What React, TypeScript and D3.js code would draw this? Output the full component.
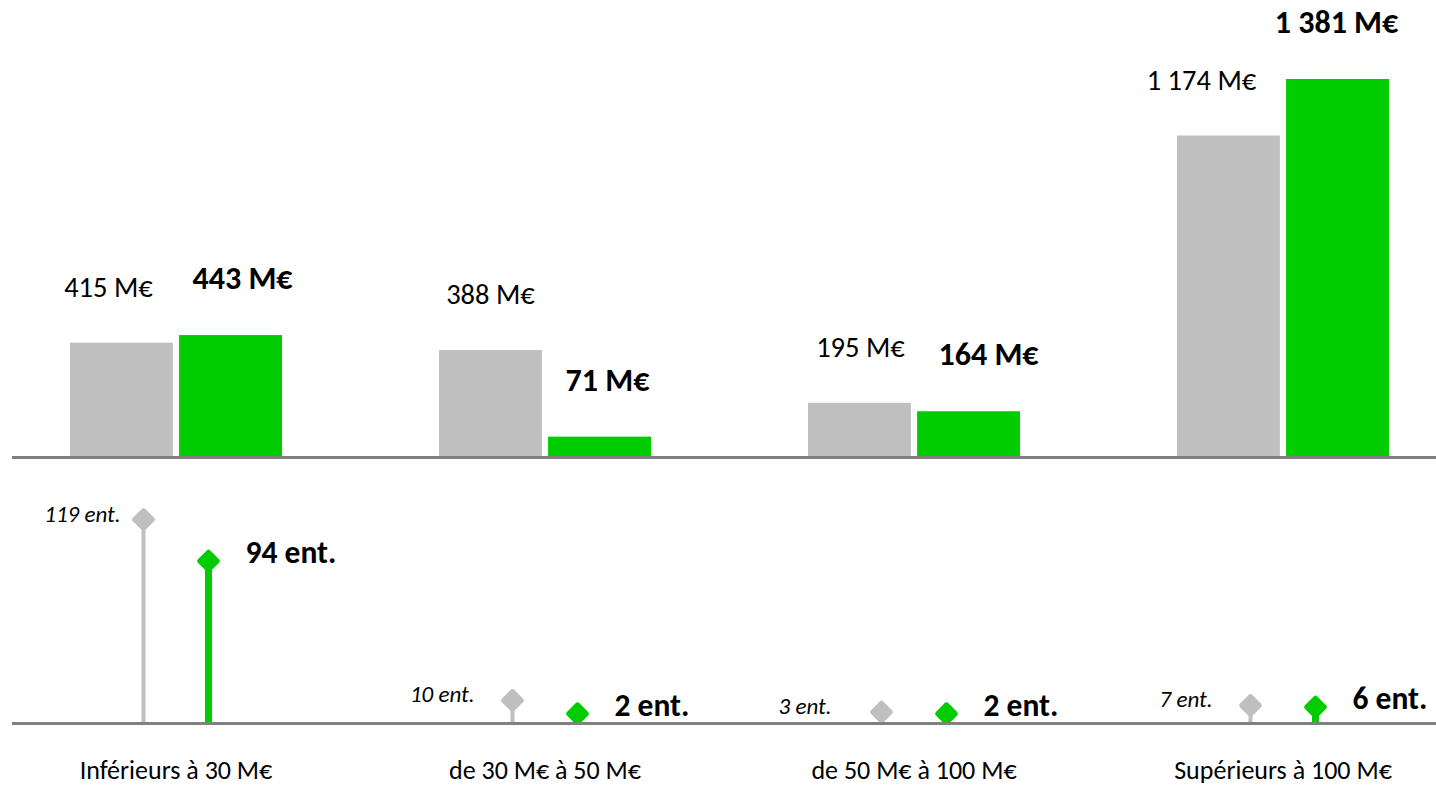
import * as d3 from "d3";

// categories (tranches de montant)
const categories = ["Inférieurs à 30 M€", "de 30 M€ à 50 M€", "de 50 M€ à 100 M€", "Supérieurs à 100 M€"];
const series = ["prev", "cur"];

// montants (M€)
const montantPrev = [415, 388, 195, 1174];
const montantCur = [443, 71, 164, 1381];

// nombre d'entreprises
const entPrev = [119, 10, 3, 7];
const entCur = [94, 2, 2, 6];

const width = 1436,
	height = 787;

const GRAY = "#bfbfbf";
const GREEN = "#00cc00";
const AXIS = "#808080";
const FONT = "Carlito, Calibri, Lato, sans-serif";

// label nudges (labels were hand-placed in the original)
const prevLabelDx = [-13, 0, 1, -27];
const curLabelDx = [12, 8, 20, -1];
const prevEntDx = [0, -15, -27, -15];

const fr = d3.formatLocale({ decimal: ",", thousands: " ", grouping: [3], currency: ["", ""] });
const fmt = fr.format(",d");

export default function App() {
	const x = d3.scaleBand().domain(categories).range([-8.5, 1467.5]);
	const xBar = d3.scaleBand().domain(series).range([-106, 106]).paddingInner(0.0566);
	const xPin = d3.scalePoint().domain(series).range([-32.5, 32.5]);

	const yBar = d3.scaleLinear().domain([0, 1381]).range([456, 79]);
	const yEnt = d3.scaleLinear().domain([-3.3, 119]).range([722.5, 519.5]);

	const mid = (c) => x(c) + x.bandwidth() / 2;
	const diamond = (cx, cy, fill) => (
		<rect x={cx - 8.75} y={cy - 8.75} width={17.5} height={17.5} rx={2.5} fill={fill} transform={`rotate(45 ${cx} ${cy})`} />
	);

	return (
		<svg width={width} height={height} style={{ position: "absolute", left: 0, top: 0, fontFamily: FONT }}>
			{/* top: montants */}
			{categories.map((c, i) => {
				const cx = mid(c);
				const xp = cx + xBar("prev");
				const xc = cx + xBar("cur");
				const bw = xBar.bandwidth();
				return (
					<g key={"bar" + i}>
						<rect x={xp} y={yBar(montantPrev[i])} width={bw} height={yBar(0) - yBar(montantPrev[i])} fill={GRAY} />
						<rect x={xc} y={yBar(montantCur[i])} width={bw} height={yBar(0) - yBar(montantCur[i])} fill={GREEN} />
						<text x={xp + bw / 2 + prevLabelDx[i]} y={yBar(montantPrev[i]) - 46} textAnchor="middle" fontSize={28.5} fill="#000">
							{fmt(montantPrev[i])} M€
						</text>
						<text x={xc + bw / 2 + curLabelDx[i]} y={yBar(montantCur[i]) - 46} textAnchor="middle" fontSize={32} fontWeight="bold" fill="#000">
							{fmt(montantCur[i])} M€
						</text>
					</g>
				);
			})}
			<line x1={12} x2={width} y1={457.5} y2={457.5} stroke={AXIS} strokeWidth={3} />

			{/* bottom: entreprises */}
			{categories.map((c, i) => {
				const cx = mid(c);
				const gp = cx + xPin("prev");
				const gc = cx + xPin("cur");
				return (
					<g key={"pin" + i}>
						<line x1={gp} x2={gp} y1={723} y2={yEnt(entPrev[i])} stroke={GRAY} strokeWidth={4} />
						<line x1={gc} x2={gc} y1={723} y2={yEnt(entCur[i])} stroke={GREEN} strokeWidth={7} />
						{diamond(gp, yEnt(entPrev[i]), GRAY)}
						{diamond(gc, yEnt(entCur[i]), GREEN)}
						<text x={gp - 23 + prevEntDx[i]} y={yEnt(entPrev[i]) + 2} textAnchor="end" fontSize={23} fontStyle="italic" fill="#000">
							{entPrev[i]} ent.
						</text>
						<text x={gc + 37} y={yEnt(entCur[i]) + 2} fontSize={31.5} fontWeight="bold" fill="#000">
							{entCur[i]} ent.
						</text>
					</g>
				);
			})}
			<line x1={12} x2={width} y1={723.5} y2={723.5} stroke={AXIS} strokeWidth={3} />

			{/* category labels */}
			{categories.map((c) => (
				<text key={c} x={mid(c)} y={779} textAnchor="middle" fontSize={26} fill="#000">
					{c}
				</text>
			))}
		</svg>
	);
}
